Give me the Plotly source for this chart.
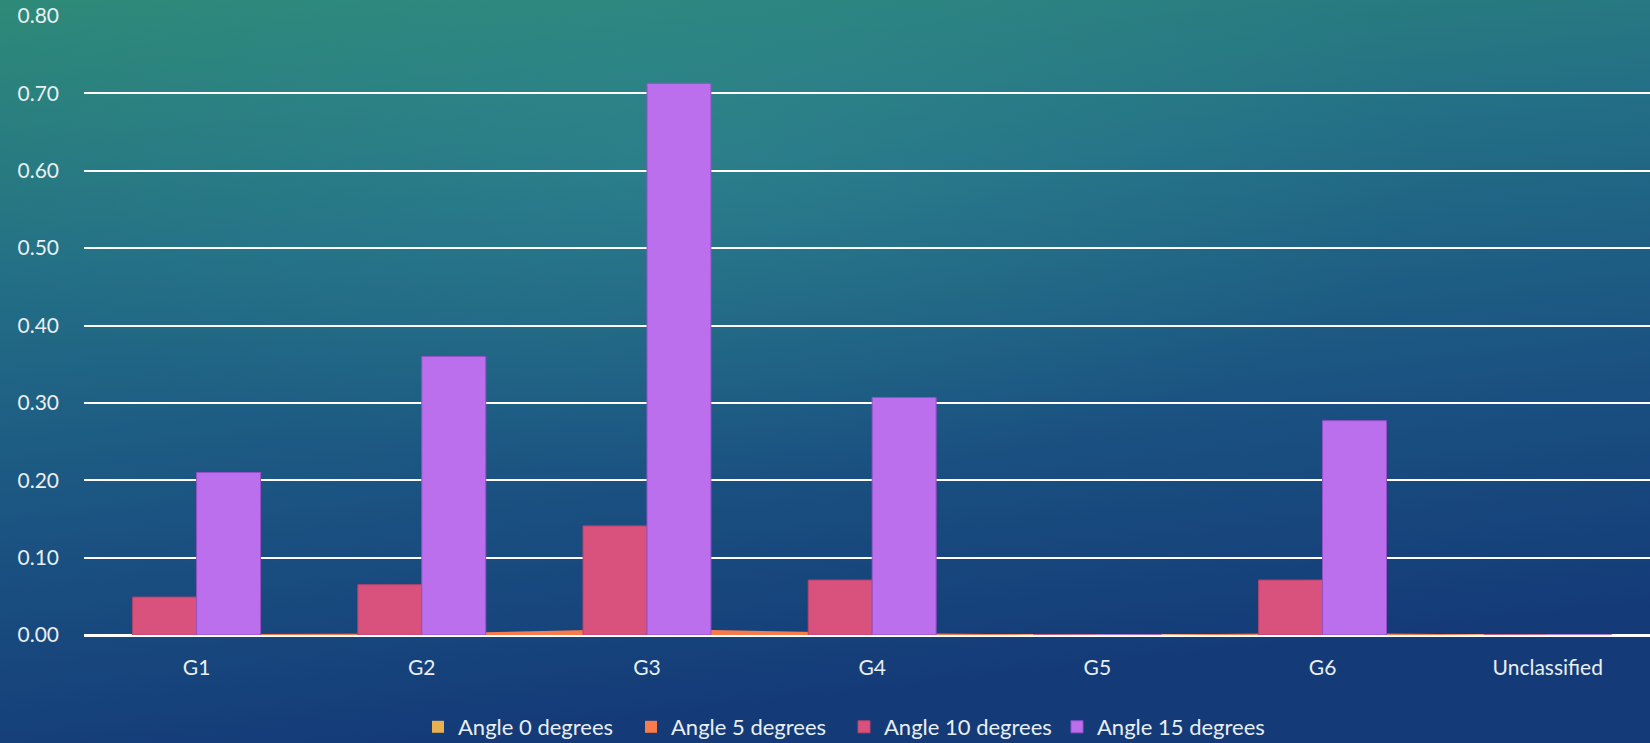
import base64
import plotly.graph_objects as go

# ---------------- data ----------------
categories = ["G1", "G2", "G3", "G4", "G5", "G6", "Unclassified"]
angle0 = [0.0005, 0.001, 0.004, 0.0015, 0.0, 0.001, 0.0]
angle5 = [0.001, 0.002, 0.008, 0.0025, 0.0, 0.0025, 0.0]
angle10 = [0.049, 0.065, 0.141, 0.071, 0.0, 0.071, 0.0]
angle15 = [0.21, 0.36, 0.713, 0.307, 0.0, 0.277, 0.0]
series_names = ["Angle 0 degrees", "Angle 5 degrees", "Angle 10 degrees", "Angle 15 degrees"]
y_ticks = [0.0, 0.1, 0.2, 0.3, 0.4, 0.5, 0.6, 0.7, 0.8]
y_tick_labels = ["0.00", "0.10", "0.20", "0.30", "0.40", "0.50", "0.60", "0.70", "0.80"]

# ---------------- style ----------------
C0 = "#e8b04e"
C5 = "#f97b4c"
C10 = "#d9527e"
C15 = "#bb6fec"
TXT = "#e8eff2"
FONT = "Lato"

W, H = 1650, 743
ML, MR, MT, MB = 84, 0, 16, 108
PW, PH = W - ML - MR, H - MT - MB

svg = f'''<svg xmlns="http://www.w3.org/2000/svg" width="{W}" height="{H}" viewBox="0 0 {W} {H}" preserveAspectRatio="none">
<defs>
<linearGradient id="g" x1="0" y1="0" x2="0.25" y2="1">
<stop offset="0" stop-color="#2e8a78"/>
<stop offset="0.35" stop-color="#236f86"/>
<stop offset="0.7" stop-color="#1a5181"/>
<stop offset="1" stop-color="#143b78"/>
</linearGradient>
<radialGradient id="r" cx="0.42" cy="0.2" r="0.45">
<stop offset="0" stop-color="#3a9c98" stop-opacity="0.30"/>
<stop offset="1" stop-color="#3a9c98" stop-opacity="0"/>
</radialGradient>
</defs>
<rect width="{W}" height="{H}" fill="url(#g)"/>
<rect width="{W}" height="{H}" fill="url(#r)"/>
</svg>'''
bg_uri = "data:image/svg+xml;base64," + base64.b64encode(svg.encode()).decode()

bar_w = 0.284
x_range = [-0.5, 6.454]

fig = go.Figure()

# area series (drawn on the lower, main subplot)
fig.add_trace(go.Scatter(x=categories, y=angle0, mode="lines", fill="tozeroy",
                         line=dict(width=0, color=C0), fillcolor=C0,
                         showlegend=False, hoverinfo="skip", xaxis="x", yaxis="y"))
fig.add_trace(go.Scatter(x=categories, y=angle5, mode="lines", fill="tozeroy",
                         line=dict(width=0, color=C5), fillcolor=C5,
                         showlegend=False, hoverinfo="skip", xaxis="x", yaxis="y"))

# legend entries for the area series
fig.add_trace(go.Bar(x=[categories[0]], y=[0], name=series_names[0], marker=dict(color=C0, line=dict(width=0)),
                     width=0.01, xaxis="x2", yaxis="y2", hoverinfo="skip"))
fig.add_trace(go.Bar(x=[categories[0]], y=[0], name=series_names[1], marker=dict(color=C5, line=dict(width=0)),
                     width=0.01, xaxis="x2", yaxis="y2", hoverinfo="skip"))

# columns (overlay subplot, drawn above the areas)
fig.add_trace(go.Bar(x=categories, y=angle10, name=series_names[2], width=bar_w, offset=-bar_w,
                     marker=dict(color=C10, line=dict(width=1, color="#b8446c")),
                     xaxis="x2", yaxis="y2"))
fig.add_trace(go.Bar(x=categories, y=angle15, name=series_names[3], width=bar_w, offset=0,
                     marker=dict(color=C15, line=dict(width=1, color="#9550c8")),
                     xaxis="x2", yaxis="y2"))

fig.update_layout(
    width=W, height=H,
    margin=dict(l=ML, r=MR, t=MT, b=MB, pad=0, autoexpand=False),
    paper_bgcolor="rgba(0,0,0,0)",
    plot_bgcolor="rgba(0,0,0,0)",
    barmode="overlay",
    font=dict(family=FONT, color=TXT, size=21),
    images=[dict(source=bg_uri, xref="paper", yref="paper",
                 x=-ML / PW, y=1 + MT / PH, sizex=W / PW, sizey=H / PH,
                 xanchor="left", yanchor="top", sizing="stretch", layer="below")],
    xaxis=dict(type="category", categoryorder="array", categoryarray=categories,
               range=x_range, showgrid=False, zeroline=False, showline=False,
               ticks="", tickfont=dict(size=21, color=TXT, family=FONT),
               ticklabelstandoff=18, fixedrange=True),
    yaxis=dict(range=[0, 0.8], tickvals=y_ticks, ticktext=y_tick_labels,
               showgrid=True, gridcolor="#ffffff", gridwidth=2,
               zeroline=True, zerolinecolor="#ffffff", zerolinewidth=2.5,
               showline=False, ticks="", ticklabelstandoff=24,
               tickfont=dict(size=21, color=TXT, family=FONT), fixedrange=True),
    xaxis2=dict(type="category", categoryorder="array", categoryarray=categories,
                range=x_range, overlaying="x", visible=False, fixedrange=True),
    yaxis2=dict(range=[0, 0.8], overlaying="y", visible=False, fixedrange=True),
    legend=dict(orientation="h", xref="container", yref="container",
                x=(434 - 16) / W, xanchor="left", y=1 - 727 / H, yanchor="middle",
                entrywidth=168, entrywidthmode="pixels",
                font=dict(size=22, color=TXT, family=FONT), bgcolor="rgba(0,0,0,0)",
                traceorder="normal", itemclick=False, itemdoubleclick=False),
)

fig.write_html("out.html")
